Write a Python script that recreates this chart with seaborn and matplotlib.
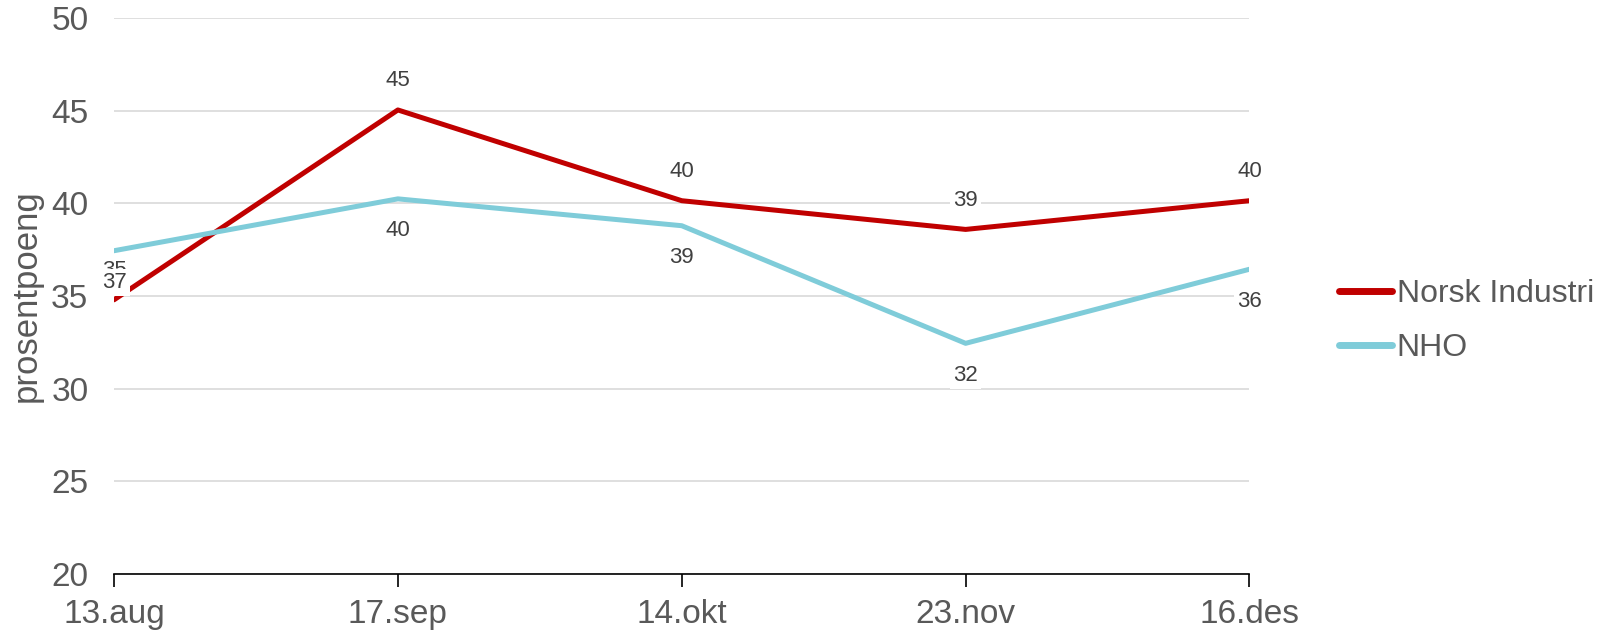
import pandas as pd
import numpy as np
import matplotlib
matplotlib.use('Agg')
import matplotlib.pyplot as plt
import seaborn as sns

dates = ['13.aug', '17.sep', '14.okt', '23.nov', '16.des']
norsk_industri = [34.8, 45.05, 40.15, 38.6, 40.15]
nho = [37.45, 40.25, 38.8, 32.45, 36.45]
series_names = ['Norsk Industri', 'NHO']
colors = ['#C00000', '#7FCCD9']

df = pd.DataFrame({
    'dato': dates * 2,
    'verdi': norsk_industri + nho,
    'serie': [series_names[0]] * len(dates) + [series_names[1]] * len(dates),
})
df['x'] = df['dato'].map({d: i for i, d in enumerate(dates)})

sns.set_style('white')
plt.rcParams['font.family'] = ['Liberation Sans', 'DejaVu Sans']

fig = plt.figure(figsize=(16.06, 6.3), dpi=100)
ax = fig.add_axes([0.071, 0.089, 0.707, 0.882])

sns.lineplot(data=df, x='x', y='verdi', hue='serie', palette=colors,
             linewidth=3.6, ax=ax, legend=True)

# data labels: red above, cyan below
for name, col in zip(series_names, colors):
    sub = df[df['serie'] == name]
    for xv, yv in zip(sub['x'], sub['verdi']):
        off = 21 if name == series_names[0] else -23
        ax.annotate(f'{yv:.0f}', (xv, yv), xytext=(0, off), textcoords='offset points',
                    ha='center', va='center', fontsize=16, color='#404040',
                    bbox=dict(boxstyle='square,pad=0.15', fc='white', ec='none'))

ax.set_ylim(20, 50)
ax.set_xlim(0, len(dates) - 1)
ax.set_yticks(np.arange(20, 51, 5))
ax.set_xticks(range(len(dates)))
ax.set_xticklabels(dates)
ax.yaxis.grid(True, color='#D9D9D9', linewidth=1.2)
ax.set_axisbelow(True)
for s in ['top', 'right', 'left']:
    ax.spines[s].set_visible(False)
ax.spines['bottom'].set_color('#000000')
ax.spines['bottom'].set_linewidth(1.2)
ax.tick_params(axis='x', bottom=True, direction='out', length=9, width=1.2,
               colors='#000000', labelcolor='#595959', labelsize=24, pad=9)
ax.tick_params(axis='y', left=False, labelcolor='#595959', labelsize=24, pad=15)
ax.set_xlabel('')
ax.set_ylabel('prosentpoeng', fontsize=25, color='#595959', labelpad=6)

leg = ax.legend(loc='center left', bbox_to_anchor=(1.079, 0.455), frameon=False,
                fontsize=23, handlelength=1.65, handletextpad=0.15, labelspacing=0.75,
                borderpad=0, borderaxespad=0, labelcolor='#595959')
for h in leg.get_lines():
    h.set_linewidth(5)
    h.set_solid_capstyle('round')

fig.savefig('out.png', dpi=100)
